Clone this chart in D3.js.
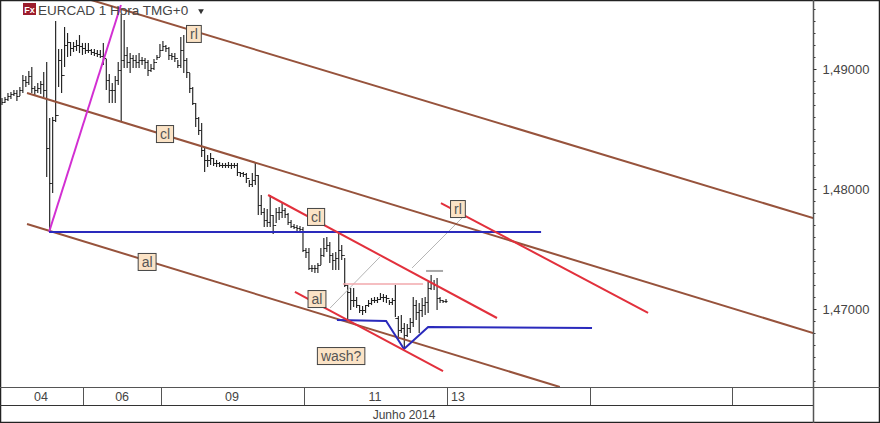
<!DOCTYPE html>
<html><head><meta charset="utf-8">
<script src="https://cdn.jsdelivr.net/npm/d3@7"></script>
<style>html,body{margin:0;padding:0;background:#fff;overflow:hidden}svg{display:block}text{font-family:"Liberation Sans",Arial,sans-serif}</style>
</head><body><svg id="c" width="880" height="423"></svg>
<script>
const barHigh=[1.48758,1.48767,1.48800,1.48808,1.48825,1.48825,1.48850,1.48950,1.48942,1.48983,
1.49017,1.48858,1.48883,1.48900,1.48975,1.49058,1.48592,1.48600,1.49400,1.49167,
1.49167,1.49350,1.49300,1.49225,1.49225,1.49242,1.49283,1.49217,1.49217,1.49217,
1.49167,1.49167,1.49158,1.49158,1.49217,1.49083,1.48958,1.48883,1.48942,1.49058,
1.49458,1.49408,1.49183,1.49133,1.49117,1.49117,1.49133,1.49100,1.49092,1.49075,
1.49042,1.49083,1.49117,1.49208,1.49233,1.49200,1.49183,1.49133,1.49133,1.49075,
1.49267,1.49283,1.49092,1.48967,1.48850,1.48717,1.48600,1.48550,1.48350,1.48283,
1.48300,1.48258,1.48242,1.48225,1.48217,1.48217,1.48225,1.48217,1.48217,1.48217,
1.48142,1.48142,1.48133,1.48075,1.48133,1.48217,1.48117,1.47950,1.47842,1.47833,
1.47950,1.47783,1.47842,1.47850,1.47892,1.47842,1.47800,1.47742,1.47708,1.47700,
1.47692,1.47683,1.47508,1.47508,1.47367,1.47367,1.47383,1.47508,1.47592,1.47600,
1.47558,1.47467,1.47475,1.47642,1.47533,1.47425,1.47200,1.47175,1.47175,1.47100,
1.47033,1.47025,1.47033,1.47075,1.47092,1.47100,1.47100,1.47133,1.47125,1.47117,
1.47075,1.47092,1.47200,1.46942,1.46950,1.46883,1.46875,1.46925,1.47100,1.47075,
1.47050,1.47092,1.47100,1.47225,1.47283,1.47242,1.47258,1.47100,1.47075,1.47083];
const barLow=[1.48700,1.48717,1.48733,1.48750,1.48775,1.48733,1.48775,1.48800,1.48850,1.48867,
1.48800,1.48775,1.48800,1.48792,1.48767,1.48100,1.47642,1.47967,1.48558,1.48850,
1.48800,1.49017,1.49100,1.49108,1.49142,1.49150,1.49133,1.49117,1.49125,1.49133,
1.49117,1.49108,1.49100,1.49092,1.49033,1.48825,1.48717,1.48717,1.48717,1.48867,
1.48558,1.49008,1.49008,1.48967,1.49008,1.49008,1.49008,1.49033,1.49000,1.48942,
1.48975,1.48992,1.49075,1.49100,1.49150,1.49142,1.49075,1.49075,1.49058,1.49008,
1.49008,1.48967,1.48925,1.48800,1.48700,1.48517,1.48450,1.48267,1.48142,1.48183,
1.48200,1.48192,1.48183,1.48183,1.48175,1.48175,1.48175,1.48167,1.48175,1.48108,
1.48100,1.48100,1.48050,1.48017,1.48017,1.48033,1.47783,1.47783,1.47683,1.47683,
1.47683,1.47625,1.47717,1.47742,1.47758,1.47758,1.47700,1.47675,1.47667,1.47650,
1.47642,1.47475,1.47425,1.47325,1.47308,1.47300,1.47300,1.47367,1.47433,1.47475,
1.47383,1.47325,1.47325,1.47325,1.47408,1.47183,1.46908,1.46992,1.47017,1.47008,
1.46967,1.46950,1.46967,1.47017,1.47033,1.47050,1.47050,1.47075,1.47058,1.47050,
1.47033,1.47033,1.46933,1.46742,1.46800,1.46675,1.46767,1.46800,1.46850,1.46908,
1.46800,1.46933,1.46950,1.46967,1.47158,1.47158,1.46992,1.47050,1.47050,1.47050];
const barClose=[1.48725,1.48750,1.48775,1.48792,1.48800,1.48775,1.48825,1.48908,1.48892,1.48942,
1.48842,1.48825,1.48842,1.48875,1.48825,1.48342,1.48050,1.48575,1.48617,1.49075,
1.48950,1.49200,1.49225,1.49175,1.49192,1.49200,1.49192,1.49175,1.49158,1.49158,
1.49142,1.49133,1.49125,1.49108,1.49092,1.48908,1.48825,1.48825,1.48908,1.48992,
1.49075,1.49117,1.49058,1.49092,1.49075,1.49058,1.49075,1.49075,1.49058,1.48992,
1.49008,1.49058,1.49100,1.49158,1.49192,1.49175,1.49117,1.49108,1.49092,1.49033,
1.49158,1.49075,1.48975,1.48842,1.48717,1.48592,1.48492,1.48325,1.48242,1.48242,
1.48258,1.48217,1.48217,1.48200,1.48200,1.48200,1.48200,1.48200,1.48200,1.48142,
1.48133,1.48125,1.48092,1.48042,1.48075,1.48117,1.47867,1.47808,1.47742,1.47725,
1.47783,1.47700,1.47808,1.47808,1.47825,1.47792,1.47725,1.47692,1.47683,1.47675,
1.47667,1.47492,1.47475,1.47342,1.47342,1.47342,1.47367,1.47450,1.47508,1.47533,
1.47450,1.47408,1.47425,1.47492,1.47450,1.47200,1.47142,1.47075,1.47075,1.47033,
1.46992,1.46992,1.47033,1.47050,1.47075,1.47075,1.47083,1.47100,1.47100,1.47092,
1.47058,1.47075,1.46925,1.46825,1.46842,1.46783,1.46842,1.46892,1.47033,1.46975,
1.46992,1.47033,1.47058,1.47175,1.47217,1.47200,1.47092,1.47075,1.47067,1.47067];

const priceLabels=[1.49,1.48,1.47];
const dayBoundaries=[27.2,53.4,101.3,149.3,197.3,245];
const dayLabels=["04","06","09","11","13"];
const dayLabelAt=[13.1,40.3,77.2,125.2,153];
const monthLabel="Junho 2014";
const titleText="EURCAD 1 Hora TMG+0";

// chart drawings: [bar index, price] vertices
const brownLines=[[[29.9,1.49575],[272.2,1.47758]],[[8.4,1.4880],[272.2,1.46800]],[[8.4,1.47708],[187.2,1.46350]]];
const redLines=[[[89.3,1.47950],[166.1,1.46925]],[[98.3,1.47142],[148,1.46483]],[[147.3,1.47883],[216.8,1.46967]]];
const blueLines=[[[15.8,1.47642],[180.9,1.47642]],[[112.4,1.46908],[128.9,1.46900],[134.9,1.46667],[143,1.46850],[198,1.46842]]];
const magentaLine=[[15.8,1.47642],[39.9,1.49533]];
const pinkLine=[[114.4,1.47208],[141.3,1.47208]];
const greyLines=[[[110.1,1.47008],[126.8,1.47433]],[[137.6,1.47342],[154.7,1.47767]]];
const greyCap=[[142.3,1.47317],[148,1.47317]];
const noteText=["rl","cl","cl","al","al","rl","wash?"];
const noteIdx=[64.4,54.7,105.4,105.7,48.7,153,113.8];
const notePrice=[1.49292,1.48458,1.47767,1.47083,1.47392,1.47833,1.46608];

const W=880,H=423,plotR=813,plotB=387,rowB=405;
const x=d3.scaleLinear().domain([0,100]).range([2,300]);
const y=d3.scaleLinear().domain([1.49,1.47]).range([69,309]);
const svg=d3.select("#c");
svg.append("rect").attr("width",W).attr("height",H).attr("fill","#fff");
svg.append("clipPath").attr("id","plot").append("rect").attr("x",1).attr("y",1).attr("width",plotR-1).attr("height",plotB-1);
const plot=svg.append("g").attr("clip-path","url(#plot)");
const line=d3.line().x(d=>x(d[0])).y(d=>y(d[1]));
function paths(arr,color,w){plot.append("g").selectAll("path").data(arr).join("path").attr("d",line).attr("fill","none").attr("stroke",color).attr("stroke-width",w);}

// OHLC bars: the open of each bar is the close of the one before it
const px=v=>Math.round(y(v))+.5;
const bars=plot.append("g").attr("stroke","#222").attr("stroke-width",1.15).selectAll("g").data(barHigh).join("g");
bars.each(function(d,i){
 const g=d3.select(this);
 g.append("line").attr("x1",x(i)).attr("x2",x(i)).attr("y1",y(d)).attr("y2",y(barLow[i]));
 g.append("line").attr("x1",x(i)).attr("x2",x(i)+1.5).attr("y1",px(barClose[i])).attr("y2",px(barClose[i])).attr("stroke-width",1);
 if(i>0)g.append("line").attr("x1",x(i)-1.5).attr("x2",x(i)).attr("y1",px(barClose[i-1])).attr("y2",px(barClose[i-1])).attr("stroke-width",1);
});
paths(greyLines,"#b5b5b5",1);
paths([pinkLine],"#f2a8ac",1.4);
paths([greyCap],"#a8a8a8",2);
paths(brownLines,"#97533c",2);
paths([magentaLine],"#d22fd2",2);
paths(blueLines,"#2a2abc",2);
paths(redLines,"#e2303c",2);

// frame + axis rows
function seg(x1,y1,x2,y2,c,w){svg.append("line").attr("x1",x1).attr("y1",y1).attr("x2",x2).attr("y2",y2).attr("stroke",c).attr("stroke-width",w);}
seg(0.5,0,0.5,H,"#222",1.5);seg(0,.5,W,.5,"#222",1.5);seg(0,H-.5,W,H-.5,"#222",1.5);seg(W-.5,0,W-.5,H,"#222",1.5);
seg(0,plotB+.5,W,plotB+.5,"#555",1);seg(0,rowB+.5,plotR,rowB+.5,"#333",1);
svg.append("g").selectAll("line").data(dayBoundaries).join("line").attr("x1",d=>Math.round(x(d))+.5).attr("x2",d=>Math.round(x(d))+.5).attr("y1",plotB).attr("y2",rowB).attr("stroke","#555");
svg.append("g").selectAll("text").data(dayLabels).join("text").attr("x",(d,i)=>x(dayLabelAt[i])).attr("y",401).attr("text-anchor","middle").attr("font-size",12.5).attr("fill","#444").text(d=>d);
svg.append("text").attr("x",404).attr("y",419).attr("text-anchor","middle").attr("font-size",12).attr("fill","#444").text(monthLabel);

// price axis
const minor=d3.range(1.46,1.4975,0.001).filter(v=>y(v)>4&&y(v)<plotB-2);
const gm=svg.append("g").attr("transform",`translate(${plotR+.5},0)`).call(d3.axisRight(y).tickValues(minor).tickSize(2).tickFormat(""));
gm.select(".domain").remove();gm.selectAll("line").attr("stroke","#333");
seg(plotR+.5,0,plotR+.5,H,"#555",1.5);
const gM=svg.append("g").attr("transform",`translate(${plotR+.5},0)`).call(d3.axisRight(y).tickValues(priceLabels).tickSize(3).tickPadding(6).tickFormat(d=>d.toFixed(5).replace(".",",")));
gM.select(".domain").remove();gM.selectAll("line").attr("stroke","#333");
gM.selectAll("text").attr("font-size",13).attr("fill","#444").attr("font-family","Liberation Sans");

// notes
noteText.forEach((t,i)=>{
 const g=svg.append("g").attr("transform",`translate(${x(noteIdx[i])},${y(notePrice[i])})`);
 const tx=g.append("text").attr("text-anchor","middle").attr("y",5).attr("font-size",14).attr("fill","#555").text(t);
 const w=tx.node().getComputedTextLength()+7;
 g.insert("rect","text").attr("x",-w/2).attr("y",-8.5).attr("width",w).attr("height",17).attr("fill","#fbe3c6").attr("stroke","#444").attr("stroke-width",1);
});

// title
svg.append("rect").attr("x",23).attr("y",3).attr("width",13).attr("height",12).attr("fill","#9c1c2c");
svg.append("text").attr("x",29.5).attr("y",13).attr("text-anchor","middle").attr("font-size",9).attr("font-weight","bold").attr("fill","#fff").text("Fx");
svg.append("text").attr("x",38).attr("y",15).attr("font-size",13.5).attr("fill","#444").text(titleText);
svg.append("path").attr("d",d3.symbol(d3.symbolTriangle,14)()).attr("transform","translate(201,11) rotate(180)").attr("fill","#333");
</script></body></html>
